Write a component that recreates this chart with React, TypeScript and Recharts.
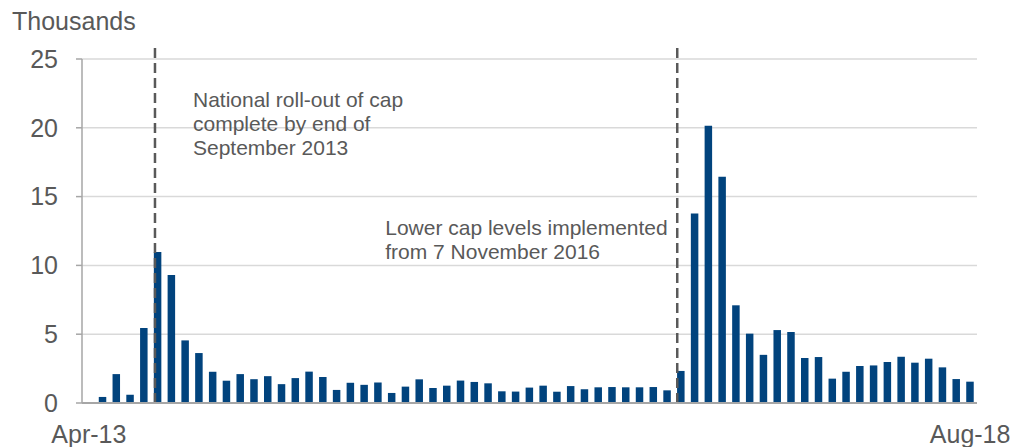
import React from 'react';
import { BarChart, Bar, XAxis, YAxis, CartesianGrid, ReferenceLine } from 'recharts';

const months = [
  'Apr-13', 'May-13', 'Jun-13', 'Jul-13', 'Aug-13', 'Sep-13', 'Oct-13', 'Nov-13', 'Dec-13',
  'Jan-14', 'Feb-14', 'Mar-14', 'Apr-14', 'May-14', 'Jun-14', 'Jul-14', 'Aug-14', 'Sep-14', 'Oct-14', 'Nov-14', 'Dec-14',
  'Jan-15', 'Feb-15', 'Mar-15', 'Apr-15', 'May-15', 'Jun-15', 'Jul-15', 'Aug-15', 'Sep-15', 'Oct-15', 'Nov-15', 'Dec-15',
  'Jan-16', 'Feb-16', 'Mar-16', 'Apr-16', 'May-16', 'Jun-16', 'Jul-16', 'Aug-16', 'Sep-16', 'Oct-16', 'Nov-16', 'Dec-16',
  'Jan-17', 'Feb-17', 'Mar-17', 'Apr-17', 'May-17', 'Jun-17', 'Jul-17', 'Aug-17', 'Sep-17', 'Oct-17', 'Nov-17', 'Dec-17',
  'Jan-18', 'Feb-18', 'Mar-18', 'Apr-18', 'May-18', 'Jun-18', 'Jul-18', 'Aug-18',
];

// Thousands of households
const households = [
  0, 0.44, 2.1, 0.6, 5.45, 10.97, 9.3, 4.55, 3.63,
  2.27, 1.62, 2.1, 1.73, 1.95, 1.37, 1.81, 2.28, 1.89, 0.95, 1.47, 1.32,
  1.49, 0.73, 1.19, 1.72, 1.09, 1.26, 1.63, 1.53, 1.43, 0.85, 0.83, 1.12,
  1.26, 0.82, 1.23, 1.0, 1.14, 1.16, 1.14, 1.14, 1.16, 0.92, 2.33, 13.78,
  20.15, 16.45, 7.1, 5.04, 3.5, 5.3, 5.16, 3.27, 3.34, 1.77, 2.27, 2.69,
  2.73, 2.98, 3.36, 2.93, 3.22, 2.59, 1.74, 1.55,
];

const yTicks = [0, 5, 10, 15, 20, 25];
const xTickLabels = ['Apr-13', 'Aug-18'];

const rolloutPos = 4.8;
const rolloutText = ['National roll-out of cap', 'complete by end of', 'September 2013'];
const lowerCapPos = 42.73;
const lowerCapText = ['Lower cap levels implemented', 'from 7 November 2016'];
const lineTop = 26.0;

const data = months.map((m, i) => ({ month: m, value: households[i], idx: i }));

const FONT = '"Liberation Sans", Arial, sans-serif';
const TEXT = '#595959';
const BAR = '#01437d';

const rolloutLabel = (props: any) => {
  const vb = props.viewBox || {};
  return (
    <text x={vb.x + 38} y={vb.y + 62} fill={TEXT} fontSize={21} fontFamily={FONT}>
      {rolloutText.map((t, i) => (
        <tspan key={i} x={vb.x + 38} dy={i === 0 ? 0 : 24}>{t}</tspan>
      ))}
    </text>
  );
};

const lowerCapLabel = (props: any) => {
  const vb = props.viewBox || {};
  return (
    <text x={vb.x - 292} y={vb.y + 190} fill={TEXT} fontSize={21} fontFamily={FONT}>
      {lowerCapText.map((t, i) => (
        <tspan key={i} x={vb.x - 292} dy={i === 0 ? 0 : 24}>{t}</tspan>
      ))}
    </text>
  );
};

const unitLabel = (props: any) => {
  const vb = props.viewBox || {};
  return (
    <text x={12} y={vb.y - 29} fill={TEXT} fontSize={25} fontFamily={FONT}>Thousands</text>
  );
};

export default function App() {
  return (
    <div style={{ position: 'absolute', left: 0, top: 0, width: 1016, height: 447, background: '#fff' }}>
      <BarChart
        width={1016}
        height={447}
        data={data}
        margin={{ top: 59, right: 39, bottom: 0, left: 0 }}
        barSize={7.5}
      >
        <CartesianGrid vertical={false} stroke="#d9d9d9" strokeWidth={1.5} />
        <XAxis
          dataKey="month"
          ticks={xTickLabels}
          interval={0}
          height={44}
          tickLine={false}
          tickSize={6}
          tickMargin={16}
          axisLine={{ stroke: '#a6a6a6', strokeWidth: 2 }}
          tick={{ fill: TEXT, fontSize: 25, fontFamily: FONT }}
        />
        <XAxis xAxisId="num" type="number" dataKey="idx" domain={[-0.5, 64.5]} hide />
        <YAxis
          domain={[0, 25]}
          ticks={yTicks}
          width={82}
          tickSize={6}
          tickMargin={18}
          axisLine={{ stroke: '#a6a6a6', strokeWidth: 1.5 }}
          tickLine={{ stroke: '#a6a6a6', strokeWidth: 1.5 }}
          tick={{ fill: TEXT, fontSize: 25, fontFamily: FONT }}
          label={{ content: unitLabel }}
        />
        <Bar dataKey="value" fill={BAR} barSize={7.5} isAnimationActive={false} />
        <ReferenceLine
          xAxisId="num"
          segment={[{ x: rolloutPos, y: 0 }, { x: rolloutPos, y: lineTop }]}
          ifOverflow="visible"
          stroke="#595959"
          strokeWidth={2.5}
          strokeDasharray="10 5"
          label={{ content: rolloutLabel }}
        />
        <ReferenceLine
          xAxisId="num"
          segment={[{ x: lowerCapPos, y: 0 }, { x: lowerCapPos, y: lineTop }]}
          ifOverflow="visible"
          stroke="#595959"
          strokeWidth={2.5}
          strokeDasharray="10 5"
          label={{ content: lowerCapLabel }}
        />
      </BarChart>
    </div>
  );
}
